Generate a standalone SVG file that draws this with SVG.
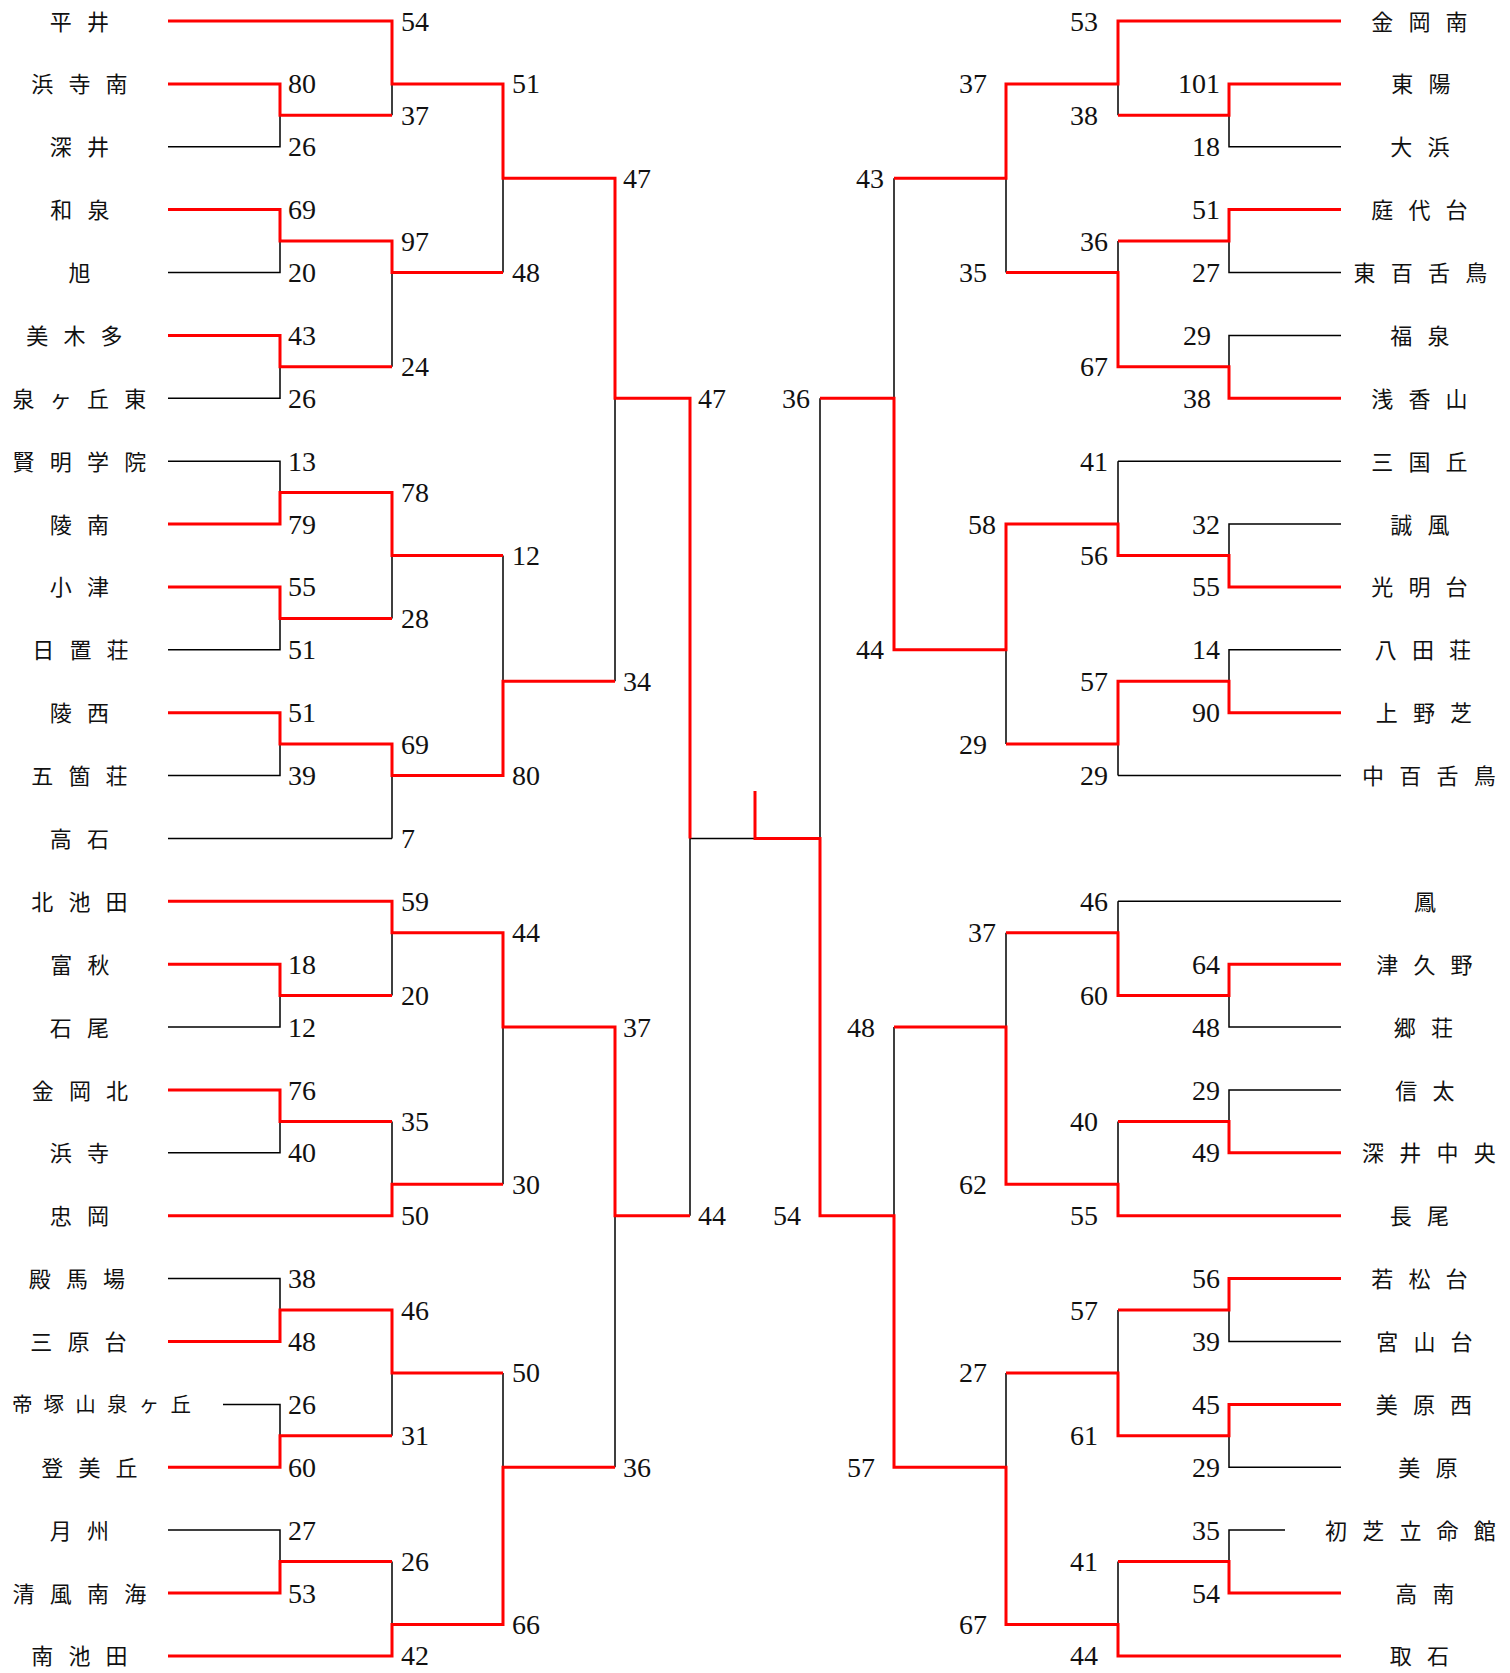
<svg xmlns="http://www.w3.org/2000/svg" width="1510" height="1673" viewBox="0 0 1510 1673">
<style>
.b{fill:none;stroke:#000;stroke-width:1.5}
.r{fill:none;stroke:#ff0000;stroke-width:3;stroke-linejoin:miter}
.n{font-family:"Noto Sans CJK JP","Noto Sans CJK SC",sans-serif;font-size:22px;letter-spacing:15.2px;fill:#111;text-anchor:middle}
.n2{font-family:"Noto Sans CJK JP","Noto Sans CJK SC",sans-serif;font-size:20.5px;letter-spacing:11.2px;fill:#111;text-anchor:middle}
.s text{font-family:"Liberation Serif","Times New Roman",serif;font-size:28px;fill:#111}
.e text{text-anchor:end}
</style>
<rect width="1510" height="1673" fill="#fff"/>
<g id="connectors">
<path class="b" d="M168,83.9H280V146.8H168M280,115.3H392M168,209.6H280V272.5H168M280,241.1H392M168,335.4H280V398.3H168M280,366.8H392M168,461.2H280V524H168M280,492.6H392M168,586.9H280V649.8H168M280,618.4H392M168,712.7H280V775.6H168M280,744.1H392M168,964.2H280V1027.1H168M280,995.6H392M168,1090H280V1152.8H168M280,1121.4H392M168,1278.6H280V1341.5H168M280,1310H392M223,1404.4H280V1467.2H168M280,1435.8H392M168,1530.1H280V1593H168M280,1561.6H392"/>
<path class="b" d="M168,21H392M168,838.4H392M168,901.3H392M168,1215.7H392M168,1655.9H392"/>
<path class="b" d="M392,21V115.3M392,241.1V366.8M392,492.6V618.4M392,744.1V838.4M392,901.3V995.6M392,1121.4V1215.7M392,1310V1435.8M392,1561.6V1655.9M392,83.9H503M392,272.5H503M392,555.5H503M392,775.6H503M392,932.8H503M392,1184.3H503M392,1372.9H503M392,1624.4H503"/>
<path class="b" d="M503,83.9V272.5M503,555.5V775.6M503,932.8V1184.3M503,1372.9V1624.4M503,178.2H615M503,681.2H615M503,1027.1H615M503,1467.2H615M615,178.2V681.2M615,1027.1V1467.2M615,398.3H690M615,1215.7H690M690,398.3V1215.7M690,838.4H820"/>
<path class="b" d="M820,398.3V1215.7M820,398.3H894M820,1215.7H894M894,178.2V649.8M894,1027.1V1467.2M894,178.2H1006M894,649.8H1006M894,1027.1H1006M894,1467.2H1006"/>
<path class="b" d="M1006,83.9V272.5M1006,524V744.1M1006,932.8V1184.3M1006,1372.9V1624.4M1006,83.9H1118M1006,272.5H1118M1006,524H1118M1006,744.1H1118M1006,932.8H1118M1006,1184.3H1118M1006,1372.9H1118M1006,1624.4H1118"/>
<path class="b" d="M1118,21V115.3M1118,241.1V366.8M1118,461.2V555.5M1118,681.2V775.6M1118,901.3V995.6M1118,1121.4V1215.7M1118,1310V1435.8M1118,1561.6V1655.9M1118,21H1341M1118,461.2H1341M1118,775.6H1341M1118,901.3H1341M1118,1215.7H1341M1118,1655.9H1341"/>
<path class="b" d="M1341,83.9H1229V146.8H1341M1229,115.3H1118M1341,209.6H1229V272.5H1341M1229,241.1H1118M1341,335.4H1229V398.3H1341M1229,366.8H1118M1341,524H1229V586.9H1341M1229,555.5H1118M1341,649.8H1229V712.7H1341M1229,681.2H1118M1341,964.2H1229V1027.1H1341M1229,995.6H1118M1341,1090H1229V1152.8H1341M1229,1121.4H1118M1341,1278.6H1229V1341.5H1341M1229,1310H1118M1341,1404.4H1229V1467.2H1341M1229,1435.8H1118M1285,1530.1H1229V1593H1341M1229,1561.6H1118"/>
<path class="r" d="M168,83.9H280V115.3H392"/>
<path class="r" d="M168,209.6H280V241.1H392V272.5H503"/>
<path class="r" d="M168,335.4H280V366.8H392"/>
<path class="r" d="M168,524H280V492.6H392V555.5H503"/>
<path class="r" d="M168,586.9H280V618.4H392"/>
<path class="r" d="M168,712.7H280V744.1H392V775.6H503V681.2H615"/>
<path class="r" d="M168,21H392V83.9H503V178.2H615V398.3H690V838.4"/>
<path class="r" d="M168,901.3H392V932.8H503V1027.1H615V1215.7H690"/>
<path class="r" d="M168,964.2H280V995.6H392"/>
<path class="r" d="M168,1090H280V1121.4H392"/>
<path class="r" d="M168,1215.7H392V1184.3H503"/>
<path class="r" d="M168,1341.5H280V1310H392V1372.9H503"/>
<path class="r" d="M168,1467.2H280V1435.8H392"/>
<path class="r" d="M168,1593H280V1561.6H392"/>
<path class="r" d="M168,1655.9H392V1624.4H503V1467.2H615"/>
<path class="r" d="M1341,21H1118V83.9H1006V178.2H894"/>
<path class="r" d="M1341,83.9H1229V115.3H1118"/>
<path class="r" d="M1341,209.6H1229V241.1H1118"/>
<path class="r" d="M1341,398.3H1229V366.8H1118V272.5H1006"/>
<path class="r" d="M1341,586.9H1229V555.5H1118V524H1006V649.8H894V398.3H820"/>
<path class="r" d="M1341,712.7H1229V681.2H1118V744.1H1006"/>
<path class="r" d="M1341,964.2H1229V995.6H1118V932.8H1006"/>
<path class="r" d="M1341,1152.8H1229V1121.4H1118"/>
<path class="r" d="M1341,1215.7H1118V1184.3H1006V1027.1H894"/>
<path class="r" d="M1341,1278.6H1229V1310H1118"/>
<path class="r" d="M1341,1404.4H1229V1435.8H1118V1372.9H1006"/>
<path class="r" d="M1341,1593H1229V1561.6H1118"/>
<path class="r" d="M1341,1655.9H1118V1624.4H1006V1467.2H894V1215.7H820V838.4H755V791"/>
</g>
<g id="teams-left" transform="translate(0,-1.5)">
<g id="L00"><text class="n" x="87" y="31">平井</text></g>
<g id="L01"><text class="n" x="87" y="93.9">浜寺南</text></g>
<g id="L02"><text class="n" x="87" y="156.8">深井</text></g>
<g id="L03"><text class="n" x="87.5" y="219.6">和泉</text></g>
<g id="L04"><text class="n" x="87" y="282.5">旭</text></g>
<g id="L05"><text class="n" x="82" y="345.4">美木多</text></g>
<g id="L06"><text class="n" x="87" y="408.3">泉ヶ丘東</text></g>
<g id="L07"><text class="n" x="87" y="471.2">賢明学院</text></g>
<g id="L08"><text class="n" x="87" y="534">陵南</text></g>
<g id="L09"><text class="n" x="87" y="596.9">小津</text></g>
<g id="L10"><text class="n" x="88" y="659.8">日置荘</text></g>
<g id="L11"><text class="n" x="87" y="722.7">陵西</text></g>
<g id="L12"><text class="n" x="87" y="785.6">五箇荘</text></g>
<g id="L13"><text class="n" x="87" y="848.4">高石</text></g>
<g id="L14"><text class="n" x="87" y="911.3">北池田</text></g>
<g id="L15"><text class="n" x="87.5" y="974.2">富秋</text></g>
<g id="L16"><text class="n" x="87" y="1037.1">石尾</text></g>
<g id="L17"><text class="n" x="87.5" y="1100">金岡北</text></g>
<g id="L18"><text class="n" x="87" y="1162.8">浜寺</text></g>
<g id="L19"><text class="n" x="87" y="1225.7">忠岡</text></g>
<g id="L20"><text class="n" x="84.5" y="1288.6">殿馬場</text></g>
<g id="L21"><text class="n" x="86" y="1351.5">三原台</text></g>
<g id="L22"><text class="n2" x="107" y="1413.6">帝塚山泉ヶ丘</text></g>
<g id="L23"><text class="n" x="97" y="1477.2">登美丘</text></g>
<g id="L24"><text class="n" x="87" y="1540.1">月州</text></g>
<g id="L25"><text class="n" x="87" y="1603">清風南海</text></g>
<g id="L26"><text class="n" x="87" y="1665.9">南池田</text></g>
</g>
<g id="teams-right" transform="translate(0,-1.5)">
<g id="R00"><text class="n" x="1427" y="31">金岡南</text></g>
<g id="R01"><text class="n" x="1428.5" y="93.9">東陽</text></g>
<g id="R02"><text class="n" x="1427.5" y="156.8">大浜</text></g>
<g id="R03"><text class="n" x="1427" y="219.6">庭代台</text></g>
<g id="R04"><text class="n" x="1428" y="282.5">東百舌鳥</text></g>
<g id="R05"><text class="n" x="1427.5" y="345.4">福泉</text></g>
<g id="R06"><text class="n" x="1427" y="408.3">浅香山</text></g>
<g id="R07"><text class="n" x="1427" y="471.2">三国丘</text></g>
<g id="R08"><text class="n" x="1427.5" y="534">誠風</text></g>
<g id="R09"><text class="n" x="1427" y="596.9">光明台</text></g>
<g id="R10"><text class="n" x="1430.5" y="659.8">八田荘</text></g>
<g id="R11"><text class="n" x="1431.5" y="722.7">上野芝</text></g>
<g id="R12"><text class="n" x="1436.5" y="785.6">中百舌鳥</text></g>
<g id="R14"><text class="n" x="1432.5" y="911.3">鳳</text></g>
<g id="R15"><text class="n" x="1432" y="974.2">津久野</text></g>
<g id="R16"><text class="n" x="1431" y="1037.1">郷荘</text></g>
<g id="R17"><text class="n" x="1432.5" y="1100">信太</text></g>
<g id="R18"><text class="n" x="1436.5" y="1162.8">深井中央</text></g>
<g id="R19"><text class="n" x="1427" y="1225.7">長尾</text></g>
<g id="R20"><text class="n" x="1427" y="1288.6">若松台</text></g>
<g id="R21"><text class="n" x="1432" y="1351.5">宮山台</text></g>
<g id="R22"><text class="n" x="1431.5" y="1414.4">美原西</text></g>
<g id="R23"><text class="n" x="1435.5" y="1477.2">美原</text></g>
<g id="R24"><text class="n" x="1418" y="1540.1">初芝立命館</text></g>
<g id="R25"><text class="n" x="1432.5" y="1603">高南</text></g>
<g id="R26"><text class="n" x="1427" y="1665.9">取石</text></g>
</g>
<g id="scores-left" class="s" transform="translate(0,-1)">
<text x="288" y="94.4">80</text><text x="288" y="157.3">26</text><text x="288" y="220.1">69</text><text x="288" y="283">20</text><text x="288" y="345.9">43</text><text x="288" y="408.8">26</text><text x="288" y="471.7">13</text><text x="288" y="534.5">79</text><text x="288" y="597.4">55</text><text x="288" y="660.3">51</text><text x="288" y="723.2">51</text><text x="288" y="786.1">39</text><text x="288" y="974.7">18</text><text x="288" y="1037.6">12</text><text x="288" y="1100.5">76</text><text x="288" y="1163.3">40</text><text x="288" y="1289.1">38</text><text x="288" y="1352">48</text><text x="288" y="1414.9">26</text><text x="288" y="1477.7">60</text><text x="288" y="1540.6">27</text><text x="288" y="1603.5">53</text>
<text x="401" y="31.5">54</text><text x="401" y="125.8">37</text><text x="401" y="251.6">97</text><text x="401" y="377.3">24</text><text x="401" y="503.1">78</text><text x="401" y="628.9">28</text><text x="401" y="754.6">69</text><text x="401" y="848.9">7</text><text x="401" y="911.8">59</text><text x="401" y="1006.1">20</text><text x="401" y="1131.9">35</text><text x="401" y="1226.2">50</text><text x="401" y="1320.5">46</text><text x="401" y="1446.3">31</text><text x="401" y="1572.1">26</text><text x="401" y="1666.4">42</text>
<text x="512" y="94.4">51</text><text x="512" y="283">48</text><text x="512" y="566">12</text><text x="512" y="786.1">80</text><text x="512" y="943.3">44</text><text x="512" y="1194.8">30</text><text x="512" y="1383.4">50</text><text x="512" y="1634.9">66</text>
<text x="623" y="188.7">47</text><text x="623" y="691.7">34</text><text x="623" y="1037.6">37</text><text x="623" y="1477.7">36</text>
<text x="698" y="408.8">47</text><text x="698" y="1226.2">44</text>
</g>
<g id="scores-right" class="s e" transform="translate(0,-1)">
<text x="1220" y="94.4">101</text><text x="1220" y="157.3">18</text><text x="1220" y="220.1">51</text><text x="1220" y="283">27</text><text x="1211" y="345.9">29</text><text x="1211" y="408.8">38</text><text x="1220" y="534.5">32</text><text x="1220" y="597.4">55</text><text x="1220" y="660.3">14</text><text x="1220" y="723.2">90</text><text x="1220" y="974.7">64</text><text x="1220" y="1037.6">48</text><text x="1220" y="1100.5">29</text><text x="1220" y="1163.3">49</text><text x="1220" y="1289.1">56</text><text x="1220" y="1352">39</text><text x="1220" y="1414.9">45</text><text x="1220" y="1477.7">29</text><text x="1220" y="1540.6">35</text><text x="1220" y="1603.5">54</text>
<text x="1098" y="31.5">53</text><text x="1098" y="125.8">38</text><text x="1108" y="251.6">36</text><text x="1108" y="377.3">67</text><text x="1108" y="471.7">41</text><text x="1108" y="566">56</text><text x="1108" y="691.7">57</text><text x="1108" y="786.1">29</text><text x="1108" y="911.8">46</text><text x="1108" y="1006.1">60</text><text x="1098" y="1131.9">40</text><text x="1098" y="1226.2">55</text><text x="1098" y="1320.5">57</text><text x="1098" y="1446.3">61</text><text x="1098" y="1572.1">41</text><text x="1098" y="1666.4">44</text>
<text x="987" y="94.4">37</text><text x="987" y="283">35</text><text x="996" y="534.5">58</text><text x="987" y="754.6">29</text><text x="996" y="943.3">37</text><text x="987" y="1194.8">62</text><text x="987" y="1383.4">27</text><text x="987" y="1634.9">67</text>
<text x="884" y="188.7">43</text><text x="884" y="660.3">44</text><text x="875" y="1037.6">48</text><text x="875" y="1477.7">57</text>
<text x="810" y="408.8">36</text><text x="801" y="1226.2">54</text>
</g>
</svg>
